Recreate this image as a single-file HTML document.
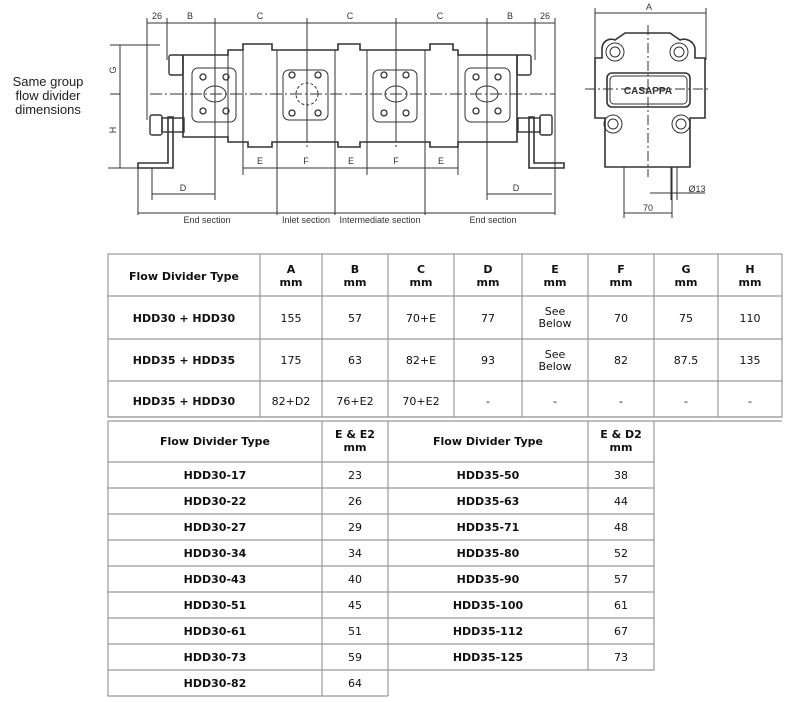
<!DOCTYPE html>
<html><head><meta charset="utf-8"><style>
body{margin:0;width:798px;height:702px;background:#fff;overflow:hidden;position:relative;font-family:"DejaVu Sans","Liberation Sans",sans-serif}
svg{position:absolute;left:0;top:0}
</style></head><body>
<svg width="798" height="702" viewBox="0 0 798 702" xmlns="http://www.w3.org/2000/svg">
<g font-family="Liberation Sans, sans-serif" font-size="13" fill="#222" text-anchor="middle">
<text x="48" y="86">Same group</text><text x="48" y="100">flow divider</text><text x="48" y="114">dimensions</text>
</g>
<!-- front view -->
<g stroke="#333" stroke-width="1" fill="none">
<!-- extension lines -->
<path d="M147 18V120 M167 18V60 M215 18V200 M307 18V130 M396 18V130 M487 18V200 M535 18V60 M555 18V215 M138 168V215 M277 142V215 M335 142V215 M425 142V215 M243 142V175 M367 142V175 M458 142V175 M152 168V200"/>
<path d="M147 23H555" />
<path d="M243 168H458 M152 194H215 M487 194H552 M138 213H555"/>
<path d="M120 45V168 M110 45H160 M110 94H120 M108 168H140" />
<!-- body -->
<path stroke-width="1.6" d="M183 55H228V50H243V44H272V50H338V44H360V50H430V44H453V50H458V55H517V142H458V147H430V142H360V147H338V142H272V147H248V142H228V137H183Z"/>
<path d="M243 50V142 M277 50V142 M335 50V142 M367 50V142 M425 50V142 M458 50V142 M228 55V137"/>
<path stroke-dasharray="12 3 2 3" d="M150 94H555 M215 30V150 M307 30V150 M396 30V150 M487 30V150"/>
<rect x="192" y="68" width="44" height="54" rx="6"/><rect x="283" y="70" width="45" height="50" rx="6"/>
<rect x="373" y="70" width="44" height="52" rx="6"/><rect x="465" y="68" width="45" height="54" rx="6"/>
<ellipse cx="215" cy="94" rx="11" ry="8"/><ellipse cx="396" cy="94" rx="11" ry="8"/><ellipse cx="487" cy="94" rx="11" ry="8"/>
<circle cx="307" cy="94" r="11" stroke-dasharray="3 2"/>
<g stroke-width="1.3">
<circle cx="203" cy="77" r="3"/><circle cx="226" cy="77" r="3"/><circle cx="203" cy="111" r="3"/><circle cx="226" cy="111" r="3"/>
<circle cx="292" cy="75" r="3"/><circle cx="318" cy="75" r="3"/><circle cx="292" cy="113" r="3"/><circle cx="318" cy="113" r="3"/>
<circle cx="384" cy="75" r="3"/><circle cx="406" cy="75" r="3"/><circle cx="384" cy="113" r="3"/><circle cx="406" cy="113" r="3"/>
<circle cx="476" cy="77" r="3"/><circle cx="498" cy="77" r="3"/><circle cx="476" cy="111" r="3"/><circle cx="498" cy="111" r="3"/>
</g>
<!-- fittings -->
<rect x="169" y="55" width="14" height="20" rx="2" stroke-width="1.4"/><rect x="517" y="55" width="14" height="20" rx="2" stroke-width="1.4"/>
<rect x="150" y="115" width="12" height="20" rx="2" stroke-width="1.4"/><rect x="162" y="118" width="22" height="14" stroke-width="1.4"/>
<rect x="540" y="115" width="12" height="20" rx="2" stroke-width="1.4"/><rect x="518" y="118" width="22" height="14" stroke-width="1.4"/>
<!-- brackets -->
<path stroke-width="1.6" d="M168 117V163H138V168H173V117Z M534 117V163H564V168H529V117Z"/>
</g>
<g font-family="Liberation Sans, sans-serif" font-size="9" fill="#333" text-anchor="middle">
<text x="157" y="19">26</text><text x="190" y="19">B</text><text x="260" y="19">C</text><text x="350" y="19">C</text><text x="440" y="19">C</text><text x="510" y="19">B</text><text x="545" y="19">26</text>
<text x="260" y="164">E</text><text x="306" y="164">F</text><text x="351" y="164">E</text><text x="396" y="164">F</text><text x="441" y="164">E</text>
<text x="183" y="191">D</text><text x="516" y="191">D</text>
<text x="207" y="223">End section</text><text x="306" y="223">Inlet section</text><text x="380" y="223">Intermediate section</text><text x="493" y="223">End section</text>
<text transform="translate(116,70) rotate(-90)">G</text><text transform="translate(116,130) rotate(-90)">H</text>
</g>
<!-- side view -->
<g stroke="#333" stroke-width="1" fill="none">
<path d="M595 8V60 M706 8V60 M595 13H706"/>
<path stroke-width="1.6" d="M595 58V118H605V167H690V118H705V58H695V48C693 40 685 38 680 40L670 33H625L615 40C610 38 603 40 602 48V58Z"/>
<rect x="607" y="73" width="83" height="34" rx="5" stroke-width="1.6"/>
<rect x="610" y="76" width="77" height="28" rx="4"/>
<circle cx="615" cy="52" r="9"/><circle cx="615" cy="52" r="5"/><circle cx="679" cy="52" r="9"/><circle cx="679" cy="52" r="5"/>
<circle cx="613" cy="124" r="9"/><circle cx="613" cy="124" r="5"/><circle cx="681" cy="124" r="9"/><circle cx="681" cy="124" r="5"/>
<path stroke-dasharray="10 3 2 3" d="M585 89H710 M648 25V177"/>
<path d="M624 167V218 M672 167V218 M624 213H672 M671 167V200 M677 167V200 M650 193H705"/>
</g>
<g font-family="Liberation Sans, sans-serif" fill="#333" text-anchor="middle">
<text x="649" y="10" font-size="9">A</text>
<text x="648" y="94" font-size="10" font-weight="bold">CASAPPA</text>
<text x="697" y="192" font-size="9">Ø13</text>
<text x="648" y="211" font-size="9">70</text>
</g>
<!-- table 1 -->
<g stroke="#999" stroke-width="1.2" fill="none">
<rect x="108" y="254" width="674" height="163"/>
<path d="M108 296H782 M108 339H782 M108 381H782 M108 417H782 M108 421H782"/>
<path d="M260 254V417 M322 254V417 M388 254V417 M454 254V417 M522 254V417 M588 254V417 M654 254V417 M718 254V417"/>
<!-- table 2 -->
<path d="M108 421V696H388 M388 670H654V421 M108 462H654 M108 488H654 M108 514H654 M108 540H654 M108 566H654 M108 592H654 M108 618H654 M108 644H654 M108 670H388 M322 421V696 M388 421V696 M588 421V670"/>
</g>
<g font-size="11" fill="#111" text-anchor="middle" font-family="DejaVu Sans, Liberation Sans, sans-serif">
<g font-weight="bold">
<text x="184" y="280">Flow Divider Type</text>
<text x="291" y="273">A</text><text x="291" y="286">mm</text>
<text x="355" y="273">B</text><text x="355" y="286">mm</text>
<text x="421" y="273">C</text><text x="421" y="286">mm</text>
<text x="488" y="273">D</text><text x="488" y="286">mm</text>
<text x="555" y="273">E</text><text x="555" y="286">mm</text>
<text x="621" y="273">F</text><text x="621" y="286">mm</text>
<text x="686" y="273">G</text><text x="686" y="286">mm</text>
<text x="750" y="273">H</text><text x="750" y="286">mm</text>
<text x="184" y="322">HDD30 + HDD30</text>
<text x="184" y="364">HDD35 + HDD35</text>
<text x="184" y="405">HDD35 + HDD30</text>
<text x="215" y="445">Flow Divider Type</text>
<text x="355" y="438">E &amp; E2</text><text x="355" y="451">mm</text>
<text x="488" y="445">Flow Divider Type</text>
<text x="621" y="438">E &amp; D2</text><text x="621" y="451">mm</text>
<text x="215" y="479">HDD30-17</text><text x="215" y="505">HDD30-22</text><text x="215" y="531">HDD30-27</text><text x="215" y="557">HDD30-34</text><text x="215" y="583">HDD30-43</text><text x="215" y="609">HDD30-51</text><text x="215" y="635">HDD30-61</text><text x="215" y="661">HDD30-73</text><text x="215" y="687">HDD30-82</text>
<text x="488" y="479">HDD35-50</text><text x="488" y="505">HDD35-63</text><text x="488" y="531">HDD35-71</text><text x="488" y="557">HDD35-80</text><text x="488" y="583">HDD35-90</text><text x="488" y="609">HDD35-100</text><text x="488" y="635">HDD35-112</text><text x="488" y="661">HDD35-125</text>
</g>
<text x="291" y="322">155</text><text x="355" y="322">57</text><text x="421" y="322">70+E</text><text x="488" y="322">77</text><text x="555" y="315">See</text><text x="555" y="327">Below</text><text x="621" y="322">70</text><text x="686" y="322">75</text><text x="750" y="322">110</text>
<text x="291" y="364">175</text><text x="355" y="364">63</text><text x="421" y="364">82+E</text><text x="488" y="364">93</text><text x="555" y="358">See</text><text x="555" y="370">Below</text><text x="621" y="364">82</text><text x="686" y="364">87.5</text><text x="750" y="364">135</text>
<text x="291" y="405">82+D2</text><text x="355" y="405">76+E2</text><text x="421" y="405">70+E2</text><text x="488" y="405">-</text><text x="555" y="405">-</text><text x="621" y="405">-</text><text x="686" y="405">-</text><text x="750" y="405">-</text>
<text x="355" y="479">23</text><text x="355" y="505">26</text><text x="355" y="531">29</text><text x="355" y="557">34</text><text x="355" y="583">40</text><text x="355" y="609">45</text><text x="355" y="635">51</text><text x="355" y="661">59</text><text x="355" y="687">64</text>
<text x="621" y="479">38</text><text x="621" y="505">44</text><text x="621" y="531">48</text><text x="621" y="557">52</text><text x="621" y="583">57</text><text x="621" y="609">61</text><text x="621" y="635">67</text><text x="621" y="661">73</text>
</g>
</svg>
</body></html>
